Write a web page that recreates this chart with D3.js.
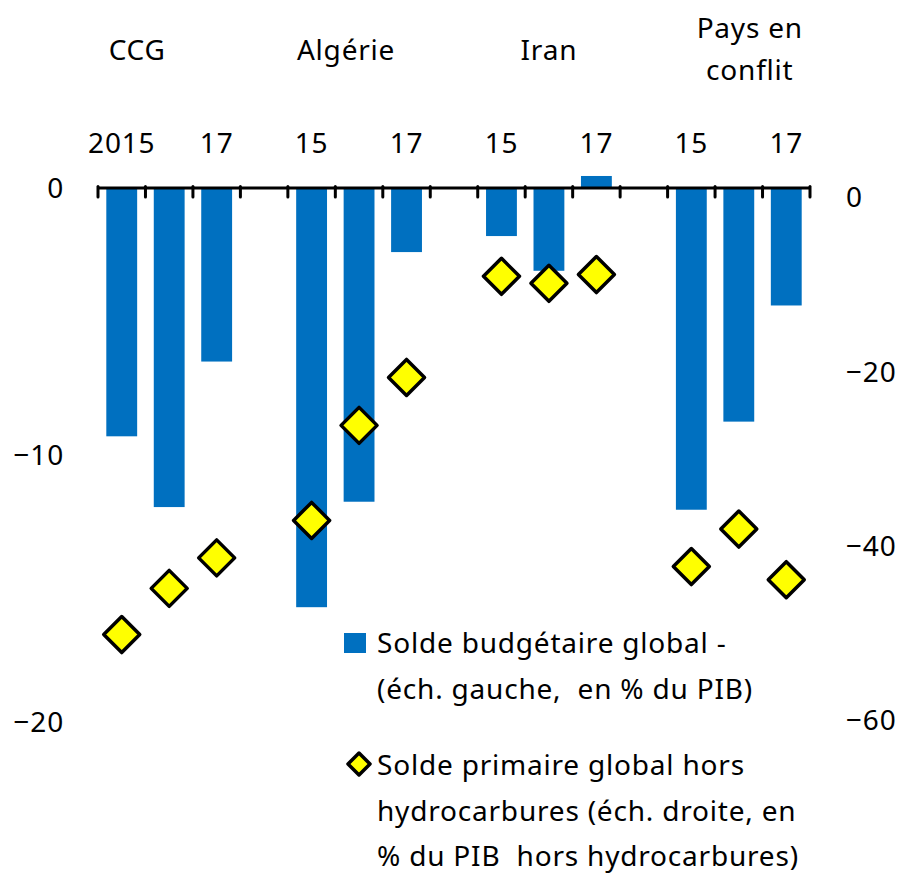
<!DOCTYPE html>
<html>
<head>
<meta charset="utf-8">
<script src="https://cdn.jsdelivr.net/npm/d3@7"></script>
<style>
  body { margin: 0; background: #fff; }
  svg text { font-family: "Noto Sans", "Open Sans", sans-serif; fill: #000; letter-spacing: 0.8px; white-space: pre; }
</style>
</head>
<body>
<div id="chart"></div>
<script>
var groups = ["CCG", "Algérie", "Iran", "Pays en conflit"];
var years = ["2015", "2016", "2017"];
var yearLabels = ["2015", "", "17", "15", "", "17", "15", "", "17", "15", "", "17"];

// solde budgétaire global, % du PIB (left scale)
var budget = [
  -9.3, -11.95, -6.5,
  -15.7, -11.75, -2.4,
  -1.8, -3.1, 0.45,
  -12.05, -8.75, -4.4
];

// solde primaire global hors hydrocarbures, % du PIB hors hydrocarbures (right scale)
var primary = [
  -50.2, -44.9, -41.4,
  -37.1, -26.2, -20.7,
  -9.1, -9.9, -8.9,
  -42.4, -38.1, -43.9
];

var leftTicks = [0, -10, -20];
var rightTicks = [0, -20, -40, -60];

var fn = {};
var vars = {};

vars.width = 905;
vars.height = 874;

// 15 slots: 3 bars per group with an empty slot between groups
fn.slot = function(i) {
  var g = Math.floor(i / 3);
  return g * 4 + (i % 3);
};

vars.x = d3.scaleBand()
  .domain(d3.range(15))
  .range([98, 810])
  .paddingInner(0.35)
  .paddingOuter(0.175);

vars.xEdge = d3.scaleLinear()
  .domain([0, 15])
  .range([98, 810]);

vars.yLeft = d3.scaleLinear()
  .domain([0, -20])
  .range([188, 722]);

vars.yRight = d3.scaleLinear()
  .domain([0, -60])
  .range([197, 720]);

fn.cx = function(i) {
  return vars.x(fn.slot(i)) + vars.x.bandwidth() / 2;
};

fn.diamond = function(r) {
  return "M0," + (-r) + "L" + r + ",0L0," + r + "L" + (-r) + ",0Z";
};

fn.minus = function(d) {
  return d < 0 ? "\u2212" + Math.abs(d) : d;
};

var svg = d3.select("#chart").append("svg")
  .attr("width", vars.width)
  .attr("height", vars.height);

// bars
svg.append("g").selectAll("rect")
  .data(budget)
  .enter().append("rect")
  .attr("x", function(d, i) { return vars.x(fn.slot(i)); })
  .attr("width", vars.x.bandwidth())
  .attr("y", function(d) { return vars.yLeft(Math.max(0, d)); })
  .attr("height", function(d) { return Math.abs(vars.yLeft(d) - vars.yLeft(0)); })
  .attr("fill", "#0070C0");

// category axis at zero
var axis = svg.append("g").attr("stroke", "#000").attr("stroke-width", 3);
axis.append("line")
  .attr("x1", vars.xEdge(0)).attr("x2", vars.xEdge(15))
  .attr("y1", vars.yLeft(0)).attr("y2", vars.yLeft(0));
axis.selectAll("line.tick")
  .data(d3.range(16))
  .enter().append("line")
  .attr("class", "tick")
  .attr("x1", function(d) { return vars.xEdge(d); })
  .attr("x2", function(d) { return vars.xEdge(d); })
  .attr("y1", vars.yLeft(0) - 1.5)
  .attr("y2", vars.yLeft(0) + 9)
  .attr("stroke-linecap", "round");

// left axis
var leftAxis = svg.append("g")
  .attr("transform", "translate(64,0)")
  .call(d3.axisLeft(vars.yLeft).tickValues(leftTicks).tickSize(0).tickPadding(0)
    .tickFormat(fn.minus));
leftAxis.select(".domain").remove();
leftAxis.selectAll("text").style("font-size", "28px").attr("dy", "0.35em");

// right axis
var rightAxis = svg.append("g")
  .attr("transform", "translate(846,0)")
  .call(d3.axisRight(vars.yRight).tickValues(rightTicks).tickSize(0).tickPadding(0)
    .tickFormat(fn.minus));
rightAxis.select(".domain").remove();
rightAxis.selectAll("text").style("font-size", "28px").attr("dy", "0.35em");

// year labels
svg.append("g").selectAll("text")
  .data(yearLabels)
  .enter().append("text")
  .attr("x", function(d, i) { return fn.cx(i); })
  .attr("y", 153)
  .attr("text-anchor", "middle")
  .style("font-size", "28px")
  .text(function(d) { return d; });

// group labels
var groupOffset = [-32, -13, 0, 11];
var groupLines = [["CCG"], ["Algérie"], ["Iran"], ["Pays en", "conflit"]];
groupLines.forEach(function(lines, g) {
  var t = svg.append("text")
    .attr("x", fn.cx(g * 3 + 1) + groupOffset[g])
    .attr("y", lines.length > 1 ? 38 : 60)
    .attr("text-anchor", "middle")
    .style("font-size", "28px");
  lines.forEach(function(l, k) {
    t.append("tspan")
      .attr("x", fn.cx(g * 3 + 1) + groupOffset[g])
      .attr("dy", k === 0 ? 0 : 42)
      .text(l);
  });
});

// diamonds
svg.append("g").selectAll("path")
  .data(primary)
  .enter().append("path")
  .attr("transform", function(d, i) {
    return "translate(" + fn.cx(i) + "," + vars.yRight(d) + ")";
  })
  .attr("d", fn.diamond(18))
  .attr("fill", "#FFFF00")
  .attr("stroke", "#000")
  .attr("stroke-width", 3.5)
  .attr("stroke-linejoin", "round");

// legend
var legend = svg.append("g");
legend.append("rect")
  .attr("x", 344).attr("y", 633)
  .attr("width", 22).attr("height", 20)
  .attr("fill", "#0070C0");
var lt1 = legend.append("text").style("font-size", "28px");
["Solde budgétaire global -", "(éch. gauche,  en % du PIB)"].forEach(function(l, k) {
  lt1.append("tspan").attr("x", 377).attr("y", 653 + k * 46).text(l);
});

legend.append("path")
  .attr("transform", "translate(359,764)")
  .attr("d", fn.diamond(11))
  .attr("fill", "#FFFF00")
  .attr("stroke", "#000")
  .attr("stroke-width", 3.5)
  .attr("stroke-linejoin", "round");
var lt2 = legend.append("text").style("font-size", "28px");
["Solde primaire global hors", "hydrocarbures (éch. droite, en", "% du PIB  hors hydrocarbures)"].forEach(function(l, k) {
  lt2.append("tspan").attr("x", 377).attr("y", 775 + k * 45.5).text(l);
});
</script>
</body>
</html>
